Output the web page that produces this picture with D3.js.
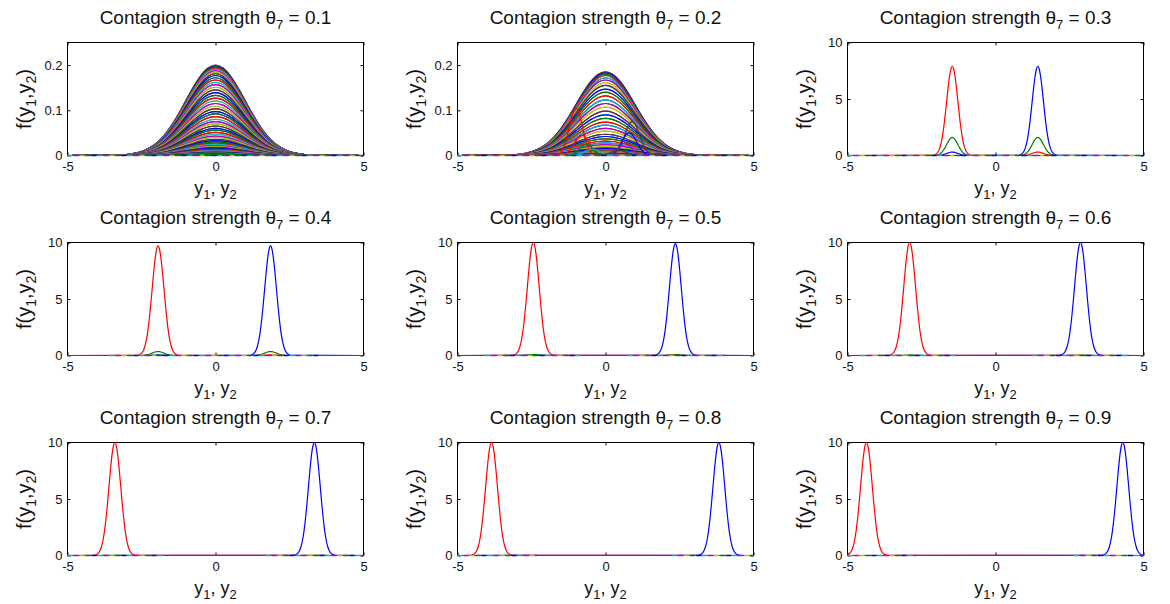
<!DOCTYPE html>
<html>
<head>
<meta charset="utf-8">
<script src="https://cdn.jsdelivr.net/npm/d3@7"></script>
<style>
  body { margin: 0; background: #fff; }
  text { font-family: "Liberation Sans", Arial, sans-serif; fill: #111; }
</style>
</head>
<body>
<div id="chart"></div>
<script>
// contagion strength of each panel
var thetas = [0.1, 0.2, 0.3, 0.4, 0.5, 0.6, 0.7, 0.8, 0.9];
var xTicks = [-5, 0, 5];
var yTicksLow = [0, 0.1, 0.2];
var yTicksHigh = [0, 5, 10];
var yMaxLow = 0.25;
var yMaxHigh = 10;

// bell profile (offset in spreads, relative height)
var bellOffsets = [-3.5, -3.25, -3, -2.75, -2.5, -2.25, -2, -1.75, -1.5, -1.25, -1, -0.75, -0.5, -0.25, 0,
                   0.25, 0.5, 0.75, 1, 1.25, 1.5, 1.75, 2, 2.25, 2.5, 2.75, 3, 3.25, 3.5];
var bellValues = [0.002, 0.005, 0.011, 0.023, 0.044, 0.080, 0.135, 0.216, 0.325, 0.458, 0.607, 0.755, 0.882, 0.969, 1,
                  0.969, 0.882, 0.755, 0.607, 0.458, 0.325, 0.216, 0.135, 0.080, 0.044, 0.023, 0.011, 0.005, 0.002];

// theta = 0.1 : peak heights of the slices (centre outwards, same on both sides)
var peaks1 = [0.200, 0.200, 0.199, 0.198, 0.196, 0.194, 0.191, 0.188, 0.185, 0.181, 0.177, 0.172, 0.167, 0.162,
              0.157, 0.151, 0.145, 0.139, 0.133, 0.127, 0.121, 0.115, 0.109, 0.103, 0.097, 0.092, 0.086, 0.080,
              0.075, 0.070, 0.065, 0.060, 0.056, 0.051, 0.047, 0.043, 0.040, 0.036, 0.033, 0.030, 0.027, 0.025,
              0.022, 0.020, 0.018, 0.016, 0.014, 0.013, 0.011, 0.010, 0.009, 0.008, 0.007, 0.006, 0.005, 0.005,
              0.004, 0.003, 0.003, 0.003, 0.002];
var spread1 = 1.0;

// theta = 0.2 : peak heights of the centred slices
var peaks2 = [0.185, 0.185, 0.183, 0.180, 0.177, 0.172, 0.167, 0.161, 0.155, 0.147, 0.140, 0.132, 0.123, 0.115,
              0.107, 0.098, 0.090, 0.082, 0.074, 0.067, 0.060, 0.054, 0.047, 0.042, 0.037, 0.032, 0.028, 0.024,
              0.020, 0.017, 0.015, 0.012, 0.010, 0.009, 0.007, 0.006, 0.005, 0.004, 0.003, 0.003, 0.002];
var spread2 = 1.0;
// theta = 0.2 : slices that already split off the centre [centre, spread, height]
var shifted2 = [[-1.00, 0.22, 0.105], [0.90, 0.25, 0.075], [-0.80, 0.25, 0.045], [0.80, 0.25, 0.050],
                [-0.65, 0.22, 0.025], [0.65, 0.22, 0.028], [-0.45, 0.25, 0.014], [0.45, 0.25, 0.012]];

// theta = 0.3 ... 0.9 : the two dominant peaks
var leftPeakX  = [-1.46, -1.94, -2.44, -2.90, -3.40, -3.85, -4.36];
var rightPeakX = [1.43, 1.86, 2.36, 2.87, 3.34, 3.83, 4.30];
var leftPeakH  = [7.9, 9.7, 10.0, 10.0, 10.0, 10.0, 10.0];
var rightPeakH = [7.9, 9.7, 9.9, 10.0, 10.0, 10.0, 10.0];
var peakSpread = [0.19, 0.20, 0.20, 0.20, 0.20, 0.20, 0.20];
var sideBumpH  = [1.6, 0.35, 0.08, 0.04, 0.02, 0.0, 0.0];
var crossBumpH = [0.30, 0.05, 0.0, 0.0, 0.0, 0.0, 0.0];

// stretches of the zero line covered by the remaining flat slices
var baselineRanges = [
  [[-5, 5]],
  [[-5, 5]],
  [[-5, 5]],
  [[-3.58, 3.55]],
  [[-4.05, -0.78], [0.74, 4.03]],
  [[-4.56, -1.29], [1.24, 4.50]],
  [[-5, -1.77], [1.69, 5]],
  [[-5, -2.31], [2.25, 5]],
  [[-5, -2.67], [2.65, 5]]
];

// MATLAB default line colours
var colorOrder = ['#0000ff', '#008000', '#ff0000', '#00bfbf', '#bf00bf', '#bfbf00', '#404040'];
var shiftedStroke = ['#ff0000', '#404040', '#ff0000', '#0000ff', '#008000', '#bf00bf', '#00bfbf', '#404040'];
var flatStroke = ['#00bfbf', '#bf00bf', '#bfbf00', '#008000', '#0000ff'];

var svgWidth = 1170;
var svgHeight = 604;
var colX = [67, 457, 847];
var rowY = [42, 242, 442];
var plotW = 296;
var plotH = 113;

var svg = d3.select('#chart')
            .append('svg')
            .attr('width', svgWidth)
            .attr('height', svgHeight);

function curvePoints(range, bumps) {
  var pts = [[range[0], 0], [range[1], 0]];
  bumps.forEach(function(b) {
    if (b[2] <= 0) return;
    bellOffsets.forEach(function(o, i) {
      pts.push([b[0] + o * b[1], b[2] * bellValues[i]]);
    });
  });
  pts = pts.filter(function(p) { return p[0] >= range[0] && p[0] <= range[1]; });
  pts.sort(function(a, b) { return a[0] - b[0]; });
  return pts;
}

function buildCurves(idx) {
  var curves = [];
  if (idx === 0 || idx === 1) {
    var peaks = idx === 0 ? peaks1 : peaks2;
    var spread = idx === 0 ? spread1 : spread2;
    var order = peaks.slice().reverse().concat(peaks.slice(1));
    order.forEach(function(h, i) {
      curves.push({pts: curvePoints([-5, 5], [[0, spread, h]]), color: colorOrder[i % 7]});
    });
    if (idx === 1) {
      shifted2.forEach(function(b, i) {
        curves.push({pts: curvePoints([-5, 5], [b]), color: shiftedStroke[i]});
      });
    }
  } else {
    var k = idx - 2;
    var s = peakSpread[k];
    curves.push({pts: curvePoints([-5, 5], [[leftPeakX[k], s, crossBumpH[k]], [rightPeakX[k], s, rightPeakH[k]]]), color: colorOrder[0]});
    curves.push({pts: curvePoints([-5, 5], [[leftPeakX[k], s, sideBumpH[k]], [rightPeakX[k], s, sideBumpH[k]]]), color: colorOrder[1]});
    curves.push({pts: curvePoints([-5, 5], [[leftPeakX[k], s, leftPeakH[k]], [rightPeakX[k], s, crossBumpH[k]]]), color: colorOrder[2]});
  }
  return curves;
}

thetas.forEach(function(theta, idx) {
  var col = idx % 3;
  var row = Math.floor(idx / 3);
  var low = idx < 2;

  var g = svg.append('g')
             .attr('transform', `translate(${colX[col] + 0.5}, ${rowY[row] + 0.5})`);

  var xScale = d3.scaleLinear().domain([-5, 5]).range([0, plotW]);
  var yScale = d3.scaleLinear().domain([0, low ? yMaxLow : yMaxHigh]).range([plotH, 0]);
  var yTicks = low ? yTicksLow : yTicksHigh;

  var fmt = function(d) { return String(d); };

  g.append('rect')
   .attr('width', plotW)
   .attr('height', plotH)
   .attr('fill', 'none')
   .attr('stroke', '#000')
   .attr('stroke-width', 1);

  var bottomAxis = g.append('g')
                    .attr('transform', `translate(0, ${plotH})`)
                    .call(d3.axisBottom(xScale).tickValues(xTicks).tickSize(-3).tickPadding(6).tickFormat(fmt));
  var leftAxis = g.append('g')
                  .call(d3.axisLeft(yScale).tickValues(yTicks).tickSize(-3).tickPadding(5).tickFormat(fmt));
  var topAxis = g.append('g')
                 .call(d3.axisTop(xScale).tickValues(xTicks).tickSize(-3).tickFormat(''));
  var rightAxis = g.append('g')
                   .attr('transform', `translate(${plotW}, 0)`)
                   .call(d3.axisRight(yScale).tickValues(yTicks).tickSize(-3).tickFormat(''));

  [bottomAxis, leftAxis, topAxis, rightAxis].forEach(function(a) {
    a.select('.domain').remove();
    a.selectAll('line').attr('stroke', '#000');
    a.selectAll('text')
     .attr('font-size', '13px')
     .attr('fill', '#111')
     .attr('font-family', '"Liberation Sans", Arial, sans-serif');
  });

  var line = d3.line()
               .x(function(d) { return xScale(d[0]); })
               .y(function(d) { return yScale(d[1]); })
               .curve(d3.curveMonotoneX);

  var curves = buildCurves(idx);
  g.selectAll('path.curve')
   .data(curves)
   .enter()
   .append('path')
   .attr('class', 'curve')
   .attr('d', function(d) { return line(d.pts); })
   .attr('fill', 'none')
   .attr('stroke', function(d) { return d.color; })
   .attr('stroke-width', 1.2);

  // the many flat slices lying on the zero line
  baselineRanges[idx].forEach(function(r) {
    flatStroke.forEach(function(c, j) {
      g.append('path')
       .attr('d', line([[r[0], 0], [r[1], 0]]))
       .attr('fill', 'none')
       .attr('stroke', c)
       .attr('stroke-width', 1.6)
       .attr('stroke-dasharray', '5 25')
       .attr('stroke-dashoffset', -j * 6);
    });
  });

  var title = g.append('text')
               .attr('x', plotW / 2)
               .attr('y', -19)
               .attr('text-anchor', 'middle')
               .attr('font-size', '19px');
  title.append('tspan').text('Contagion strength \u03b8');
  title.append('tspan').attr('dy', 5).attr('font-size', '13px').text('7');
  title.append('tspan').attr('dy', -5).text(' = ' + theta);

  var ylab = g.append('text')
              .attr('transform', `translate(-37, ${plotH / 2}) rotate(-90)`)
              .attr('text-anchor', 'middle')
              .attr('font-size', '20px');
  ylab.append('tspan').text('f(y');
  ylab.append('tspan').attr('dy', 5).attr('font-size', '14px').text('1');
  ylab.append('tspan').attr('dy', -5).text(',y');
  ylab.append('tspan').attr('dy', 5).attr('font-size', '14px').text('2');
  ylab.append('tspan').attr('dy', -5).text(')');

  var xlab = g.append('text')
              .attr('x', plotW / 2)
              .attr('y', plotH + 38)
              .attr('text-anchor', 'middle')
              .attr('font-size', '18px');
  xlab.append('tspan').text('y');
  xlab.append('tspan').attr('dy', 5).attr('font-size', '13px').text('1');
  xlab.append('tspan').attr('dy', -5).text(', y');
  xlab.append('tspan').attr('dy', 5).attr('font-size', '13px').text('2');
});
</script>
</body>
</html>
